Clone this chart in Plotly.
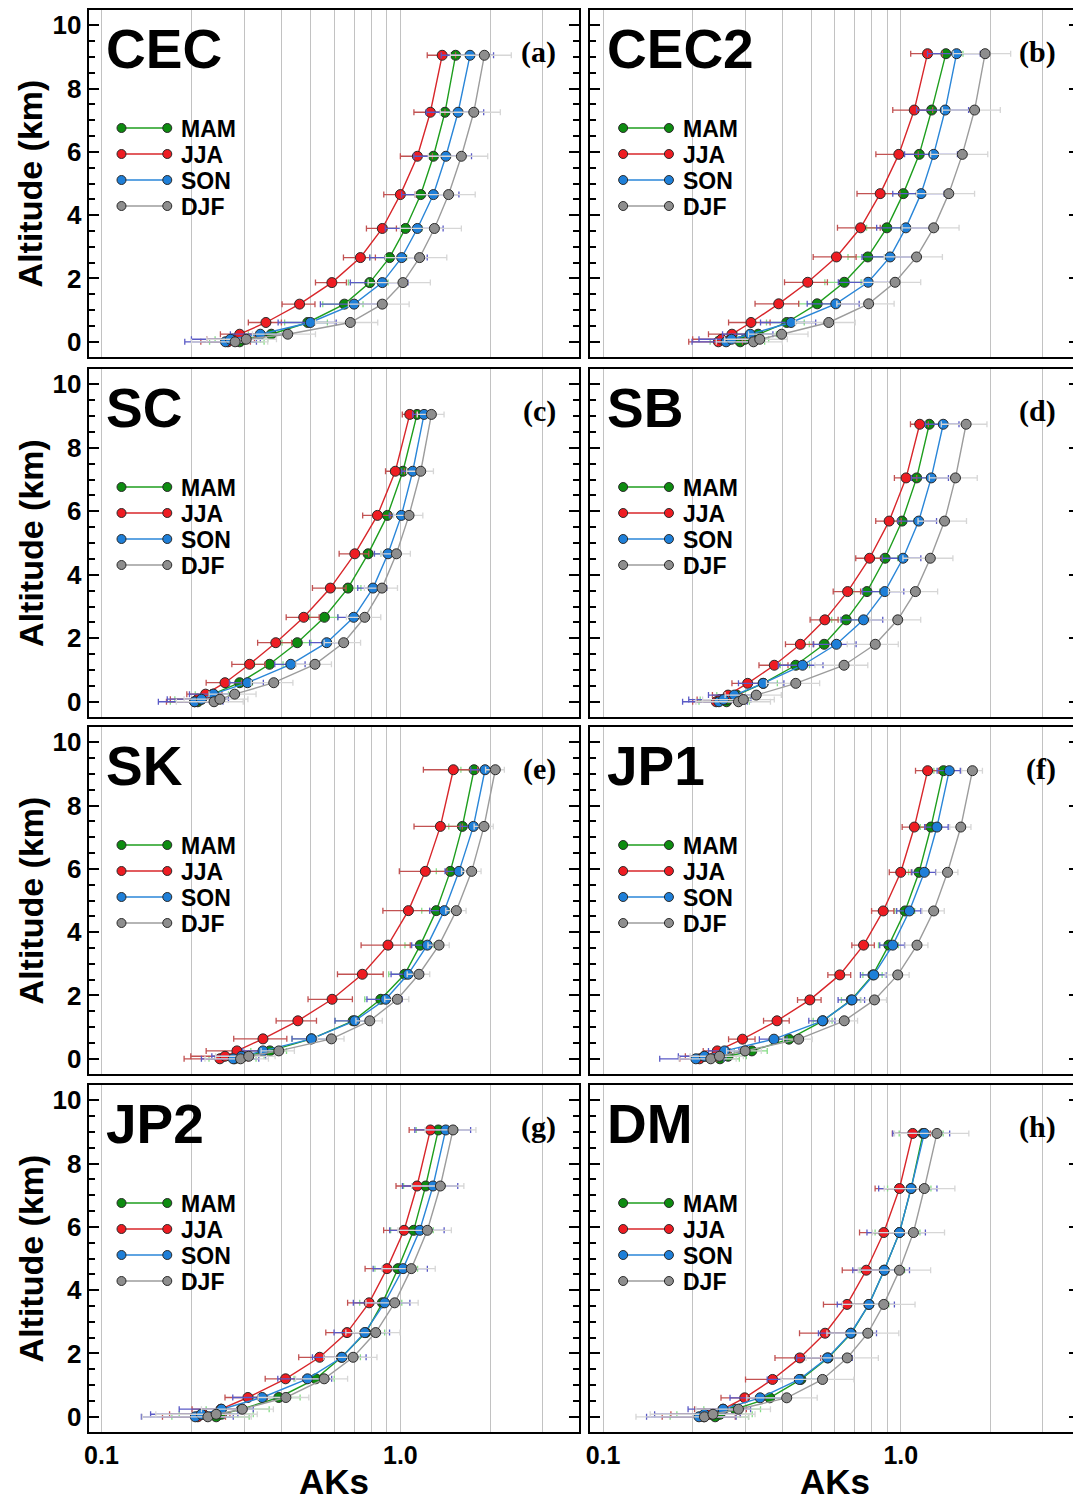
import math
import plotly.graph_objects as go

# ---------------- data ----------------
SEASONS = ["MAM", "JJA", "SON", "DJF"]
PANELS = ["CEC", "CEC2", "SC", "SB", "SK", "JP1", "JP2", "DM"]
PANEL_TAGS = ["(a)", "(b)", "(c)", "(d)", "(e)", "(f)", "(g)", "(h)"]
X_TICK_VALS = [0.1, 0.2, 0.3, 0.4, 0.5, 0.6, 0.7, 0.8, 0.9, 1.0, 2.0, 3.0]
X_TICK_TEXT = ["0.1", "", "", "", "", "", "", "", "", "1.0", "", ""]
Y_TICK_VALS = [0, 2, 4, 6, 8, 10]

# altitude levels (km) per region
ALT_CEC = [0.0, 0.08, 0.24, 0.61, 1.19, 1.87, 2.66, 3.58, 4.65, 5.86, 7.25, 9.05]
ALT_CEC2 = [0.0, 0.08, 0.24, 0.61, 1.20, 1.88, 2.68, 3.60, 4.68, 5.92, 7.32, 9.10]
ALT_SC = [0.0, 0.08, 0.24, 0.60, 1.18, 1.86, 2.66, 3.58, 4.66, 5.87, 7.26, 9.05]
ALT_SB = [0.0, 0.07, 0.21, 0.58, 1.15, 1.81, 2.58, 3.47, 4.52, 5.69, 7.05, 8.74]
ALT_SK = [0.0, 0.08, 0.25, 0.63, 1.20, 1.88, 2.67, 3.59, 4.68, 5.92, 7.34, 9.13]
ALT_JP1 = [0.0, 0.08, 0.25, 0.62, 1.20, 1.86, 2.65, 3.59, 4.67, 5.89, 7.32, 9.10]
ALT_JP2 = [0.0, 0.08, 0.24, 0.61, 1.20, 1.88, 2.66, 3.60, 4.68, 5.89, 7.29, 9.06]
ALT_DM = [0.0, 0.08, 0.24, 0.60, 1.18, 1.86, 2.64, 3.55, 4.63, 5.82, 7.21, 8.95]

# averaging kernels (AKs) per season
AK_CEC = {
    "MAM": [0.29, 0.30, 0.37, 0.49, 0.65, 0.79, 0.92, 1.04, 1.17, 1.29, 1.41, 1.53],
    "JJA": [0.265, 0.275, 0.29, 0.355, 0.46, 0.59, 0.735, 0.87, 1.00, 1.14, 1.26, 1.38],
    "SON": [0.26, 0.27, 0.34, 0.50, 0.70, 0.87, 1.01, 1.14, 1.29, 1.42, 1.56, 1.71],
    "DJF": [0.28, 0.305, 0.42, 0.68, 0.87, 1.02, 1.16, 1.30, 1.45, 1.60, 1.76, 1.91],
}
AK_CEC2 = {
    "MAM": [0.289, 0.30, 0.332, 0.414, 0.524, 0.646, 0.775, 0.898, 1.02, 1.154, 1.27, 1.418],
    "JJA": [0.244, 0.25, 0.271, 0.314, 0.389, 0.487, 0.608, 0.733, 0.853, 0.985, 1.11, 1.23],
    "SON": [0.259, 0.27, 0.312, 0.428, 0.605, 0.777, 0.921, 1.04, 1.17, 1.29, 1.41, 1.54],
    "DJF": [0.32, 0.336, 0.398, 0.573, 0.78, 0.957, 1.13, 1.29, 1.45, 1.61, 1.77, 1.92],
}
AK_SC = {
    "MAM": [0.21, 0.216, 0.236, 0.29, 0.365, 0.452, 0.557, 0.668, 0.78, 0.905, 1.02, 1.137],
    "JJA": [0.205, 0.21, 0.223, 0.259, 0.313, 0.383, 0.475, 0.583, 0.704, 0.838, 0.962, 1.075],
    "SON": [0.205, 0.216, 0.237, 0.308, 0.43, 0.567, 0.698, 0.81, 0.909, 1.008, 1.10, 1.20],
    "DJF": [0.238, 0.249, 0.279, 0.377, 0.518, 0.646, 0.76, 0.868, 0.97, 1.069, 1.17, 1.27],
}
AK_SB = {
    "MAM": [0.26, 0.262, 0.281, 0.345, 0.444, 0.553, 0.656, 0.77, 0.886, 1.01, 1.131, 1.247],
    "JJA": [0.24, 0.247, 0.263, 0.306, 0.376, 0.46, 0.556, 0.663, 0.786, 0.914, 1.042, 1.158],
    "SON": [0.245, 0.254, 0.276, 0.345, 0.468, 0.608, 0.75, 0.884, 1.018, 1.149, 1.266, 1.389],
    "DJF": [0.285, 0.296, 0.327, 0.444, 0.645, 0.821, 0.977, 1.12, 1.257, 1.403, 1.527, 1.658],
}
AK_SK = {
    "MAM": [0.279, 0.30, 0.366, 0.504, 0.695, 0.86, 1.034, 1.166, 1.319, 1.469, 1.612, 1.764],
    "JJA": [0.249, 0.259, 0.284, 0.347, 0.454, 0.591, 0.746, 0.909, 1.064, 1.212, 1.361, 1.504],
    "SON": [0.276, 0.294, 0.347, 0.504, 0.704, 0.893, 1.061, 1.231, 1.403, 1.571, 1.755, 1.92],
    "DJF": [0.292, 0.311, 0.392, 0.588, 0.79, 0.977, 1.154, 1.347, 1.539, 1.732, 1.905, 2.078],
}
AK_JP1 = {
    "MAM": [0.247, 0.263, 0.316, 0.421, 0.548, 0.682, 0.806, 0.912, 1.034, 1.152, 1.263, 1.392],
    "JJA": [0.211, 0.219, 0.242, 0.294, 0.384, 0.495, 0.624, 0.75, 0.873, 1.0, 1.111, 1.231],
    "SON": [0.205, 0.219, 0.256, 0.375, 0.546, 0.686, 0.812, 0.94, 1.069, 1.20, 1.323, 1.455],
    "DJF": [0.23, 0.246, 0.30, 0.454, 0.646, 0.816, 0.977, 1.134, 1.29, 1.436, 1.591, 1.741],
}
AK_JP2 = {
    "MAM": [0.242, 0.252, 0.294, 0.392, 0.521, 0.635, 0.766, 0.871, 0.982, 1.108, 1.215, 1.34],
    "JJA": [0.21, 0.219, 0.251, 0.309, 0.413, 0.537, 0.663, 0.786, 0.902, 1.029, 1.137, 1.26],
    "SON": [0.206, 0.216, 0.252, 0.345, 0.489, 0.638, 0.76, 0.886, 1.021, 1.161, 1.286, 1.418],
    "DJF": [0.227, 0.242, 0.296, 0.414, 0.556, 0.695, 0.827, 0.957, 1.088, 1.231, 1.361, 1.50],
}
AK_DM = {
    "MAM": [0.238, 0.247, 0.278, 0.363, 0.462, 0.57, 0.682, 0.782, 0.88, 0.99, 1.083, 1.188],
    "JJA": [0.218, 0.229, 0.253, 0.299, 0.371, 0.458, 0.557, 0.66, 0.766, 0.877, 0.99, 1.097],
    "SON": [0.21, 0.219, 0.253, 0.337, 0.456, 0.567, 0.679, 0.782, 0.88, 0.99, 1.083, 1.20],
    "DJF": [0.219, 0.234, 0.285, 0.414, 0.546, 0.661, 0.775, 0.877, 0.99, 1.103, 1.20, 1.323],
}

# error bar half-widths (standard deviations)
ERR_CEC = {
    "MAM": [0.06, 0.06, 0.06, 0.08, 0.10, 0.12, 0.13, 0.14, 0.15, 0.16, 0.17, 0.18],
    "JJA": [0.05, 0.05, 0.04, 0.045, 0.058, 0.07, 0.09, 0.10, 0.12, 0.14, 0.15, 0.15],
    "SON": [0.07, 0.07, 0.07, 0.11, 0.16, 0.19, 0.22, 0.25, 0.28, 0.31, 0.34, 0.34],
    "DJF": [0.08, 0.08, 0.10, 0.16, 0.20, 0.24, 0.27, 0.30, 0.33, 0.36, 0.40, 0.44],
}
ERR_CEC2 = {
    "MAM": [0.06, 0.06, 0.05, 0.06, 0.07, 0.09, 0.11, 0.13, 0.14, 0.16, 0.18, 0.20],
    "JJA": [0.05, 0.05, 0.045, 0.05, 0.065, 0.08, 0.10, 0.12, 0.14, 0.16, 0.17, 0.15],
    "SON": [0.06, 0.06, 0.06, 0.09, 0.12, 0.16, 0.18, 0.21, 0.23, 0.26, 0.28, 0.31],
    "DJF": [0.08, 0.08, 0.09, 0.13, 0.17, 0.21, 0.25, 0.28, 0.32, 0.35, 0.39, 0.42],
}
ERR_SC = {
    "MAM": [0.04, 0.04, 0.03, 0.03, 0.04, 0.05, 0.06, 0.07, 0.08, 0.09, 0.09, 0.09],
    "JJA": [0.04, 0.04, 0.03, 0.035, 0.04, 0.05, 0.06, 0.075, 0.08, 0.09, 0.07, 0.06],
    "SON": [0.05, 0.05, 0.04, 0.04, 0.05, 0.07, 0.08, 0.09, 0.09, 0.09, 0.09, 0.10],
    "DJF": [0.06, 0.06, 0.05, 0.06, 0.07, 0.09, 0.10, 0.11, 0.11, 0.12, 0.12, 0.13],
}
ERR_SB = {
    "MAM": [0.05, 0.05, 0.04, 0.04, 0.05, 0.06, 0.07, 0.08, 0.09, 0.10, 0.11, 0.12],
    "JJA": [0.04, 0.04, 0.03, 0.035, 0.042, 0.05, 0.06, 0.07, 0.08, 0.09, 0.09, 0.08],
    "SON": [0.06, 0.06, 0.05, 0.06, 0.08, 0.10, 0.12, 0.14, 0.15, 0.17, 0.18, 0.18],
    "DJF": [0.08, 0.08, 0.07, 0.09, 0.13, 0.16, 0.19, 0.21, 0.24, 0.26, 0.28, 0.29],
}
ERR_SK = {
    "MAM": [0.05, 0.05, 0.05, 0.07, 0.09, 0.10, 0.12, 0.13, 0.14, 0.15, 0.16, 0.17],
    "JJA": [0.06, 0.06, 0.06, 0.07, 0.07, 0.10, 0.13, 0.17, 0.19, 0.22, 0.25, 0.31],
    "SON": [0.06, 0.06, 0.05, 0.07, 0.10, 0.12, 0.13, 0.14, 0.15, 0.16, 0.17, 0.20],
    "DJF": [0.07, 0.07, 0.05, 0.06, 0.08, 0.09, 0.10, 0.11, 0.12, 0.13, 0.14, 0.15],
}
ERR_JP1 = {
    "MAM": [0.04, 0.04, 0.04, 0.04, 0.04, 0.05, 0.06, 0.07, 0.08, 0.09, 0.10, 0.10],
    "JJA": [0.03, 0.03, 0.025, 0.03, 0.038, 0.045, 0.055, 0.065, 0.075, 0.085, 0.10, 0.11],
    "SON": [0.05, 0.04, 0.03, 0.04, 0.055, 0.07, 0.08, 0.09, 0.10, 0.11, 0.12, 0.13],
    "DJF": [0.05, 0.05, 0.04, 0.05, 0.07, 0.08, 0.09, 0.10, 0.11, 0.12, 0.13, 0.14],
}
ERR_JP2 = {
    "MAM": [0.07, 0.07, 0.07, 0.07, 0.08, 0.10, 0.12, 0.14, 0.16, 0.18, 0.19, 0.21],
    "JJA": [0.05, 0.05, 0.05, 0.05, 0.06, 0.08, 0.10, 0.12, 0.14, 0.15, 0.17, 0.19],
    "SON": [0.07, 0.07, 0.07, 0.07, 0.10, 0.13, 0.16, 0.19, 0.21, 0.24, 0.27, 0.30],
    "DJF": [0.09, 0.09, 0.08, 0.08, 0.11, 0.14, 0.17, 0.19, 0.22, 0.25, 0.27, 0.29],
}
ERR_DM = {
    "MAM": [0.07, 0.07, 0.06, 0.06, 0.08, 0.10, 0.12, 0.13, 0.15, 0.17, 0.18, 0.20],
    "JJA": [0.06, 0.06, 0.05, 0.05, 0.07, 0.08, 0.10, 0.11, 0.13, 0.15, 0.17, 0.16],
    "SON": [0.07, 0.07, 0.06, 0.07, 0.10, 0.12, 0.15, 0.17, 0.19, 0.22, 0.24, 0.26],
    "DJF": [0.09, 0.09, 0.08, 0.11, 0.15, 0.18, 0.21, 0.24, 0.27, 0.30, 0.32, 0.37],
}

ALTS = {"CEC": ALT_CEC, "CEC2": ALT_CEC2, "SC": ALT_SC, "SB": ALT_SB,
        "SK": ALT_SK, "JP1": ALT_JP1, "JP2": ALT_JP2, "DM": ALT_DM}
AKS = {"CEC": AK_CEC, "CEC2": AK_CEC2, "SC": AK_SC, "SB": AK_SB,
       "SK": AK_SK, "JP1": AK_JP1, "JP2": AK_JP2, "DM": AK_DM}
ERRS = {"CEC": ERR_CEC, "CEC2": ERR_CEC2, "SC": ERR_SC, "SB": ERR_SB,
        "SK": ERR_SK, "JP1": ERR_JP1, "JP2": ERR_JP2, "DM": ERR_DM}

# ---------------- styles ----------------
LINE_C = {"MAM": "#1e9e1e", "JJA": "#d8262a", "SON": "#2a86d8", "DJF": "#9c9c9c"}
MARK_C = {"MAM": "#0d8c10", "JJA": "#ee1c22", "SON": "#1e7fd8", "DJF": "#8e8e8e"}
ERR_C = {"MAM": "#86dc86", "JJA": "#c25252", "SON": "#5a5ac6", "DJF": "#d6d6d6"}
SANS = "Liberation Sans"
SERIF = "Liberation Serif"

# the page body adds an 8 px margin; the figure is sized/offset to compensate
OFF = 8
W, H = 1081 - OFF, 1503 - OFF
COL_X = [(84, 577), (588, 1079)]
ROW_Y = [(10, 357), (369, 717), (727, 1074), (1085, 1432)]
X_RANGE = [math.log10(0.0906), math.log10(3.97)]
Y_RANGE = [-0.48, 10.48]


def px(x):
    return (x - OFF) / W


def py(y):
    return 1 - (y - OFF) / H


fig = go.Figure()
layout = {}
annotations = []
shapes = []

for i, name in enumerate(PANELS):
    r, c = divmod(i, 2)
    sfx = "" if i == 0 else str(i + 1)
    xa, ya = "x" + sfx, "y" + sfx
    x0, x1 = COL_X[c]
    y0, y1 = ROW_Y[r]

    for s in SEASONS:
        fig.add_trace(go.Scatter(
            x=AKS[name][s], y=ALTS[name],
            mode="lines+markers",
            line=dict(color=LINE_C[s], width=1.4),
            marker=dict(size=10, color=MARK_C[s], line=dict(color="#2a2a2a", width=1)),
            error_x=dict(type="data", array=ERRS[name][s], color=ERR_C[s],
                         thickness=1.3, width=3),
            xaxis=xa, yaxis=ya, showlegend=False, name=s,
        ))

    layout["xaxis" + sfx] = dict(
        domain=[px(x0), px(x1)], anchor=ya, type="log", range=X_RANGE,
        tickvals=X_TICK_VALS, ticktext=X_TICK_TEXT, ticks="",
        showgrid=True, gridcolor="#c2c2c2", gridwidth=1,
        showline=True, linecolor="black", linewidth=2, mirror=True,
        zeroline=False, showticklabels=(r == 3),
        tickfont=dict(family=SANS, size=25, color="black", weight="bold"),
    )
    layout["yaxis" + sfx] = dict(
        domain=[py(y1), py(y0)], anchor=xa, range=Y_RANGE,
        tickvals=Y_TICK_VALS, ticks="inside", ticklen=10, tickwidth=2,
        tickcolor="black", showline=True, linecolor="black", linewidth=2,
        mirror="ticks", showgrid=False, zeroline=False,
        minor=dict(dtick=0.5, ticks="inside", ticklen=6, tickwidth=1.5,
                   tickcolor="black", showgrid=False),
        showticklabels=(c == 0),
        tickfont=dict(family=SANS, size=26, color="black", weight="bold"),
    )

    # darker line at AK = 1.0
    shapes.append(dict(type="line", xref=xa, yref=ya + " domain", x0=0, x1=0,
                       y0=0, y1=1, line=dict(color="#8f8f8f", width=1.2), layer="below"))

    # region title and panel tag
    annotations.append(dict(text=name, xref="paper", yref="paper",
                            x=px(x0 + 15), y=py(y0 + 39), xanchor="left", yanchor="middle",
                            showarrow=False,
                            font=dict(family=SANS, size=55, color="black", weight="bold")))
    annotations.append(dict(text=PANEL_TAGS[i], xref="paper", yref="paper",
                            x=px(x1 - 21), y=py(y0 + 42), xanchor="right", yanchor="middle",
                            showarrow=False,
                            font=dict(family=SERIF, size=30, color="black", weight="bold")))

    # in-panel legend
    for k, s in enumerate(SEASONS):
        ly = y0 + 118 + 26 * k
        lx0, lx1 = x0 + 33, x0 + 79
        shapes.append(dict(type="line", xref="paper", yref="paper",
                           x0=px(lx0), x1=px(lx1), y0=py(ly), y1=py(ly),
                           line=dict(color=LINE_C[s], width=1.4)))
        for lx in (lx0, lx1):
            shapes.append(dict(type="circle", xref="paper", yref="paper",
                               xsizemode="pixel", ysizemode="pixel",
                               xanchor=px(lx), yanchor=py(ly),
                               x0=-4.5, x1=4.5, y0=-4.5, y1=4.5,
                               fillcolor=MARK_C[s], line=dict(color="#2a2a2a", width=1)))
        annotations.append(dict(text=s, xref="paper", yref="paper",
                                x=px(x0 + 92), y=py(ly + 1), xanchor="left", yanchor="middle",
                                borderpad=0,
                                showarrow=False,
                                font=dict(family=SANS, size=23, color="black", weight="bold")))

# axis titles
for r in range(4):
    y0, y1 = ROW_Y[r]
    annotations.append(dict(text="Altitude (km)", xref="paper", yref="paper",
                            x=px(26), y=py((y0 + y1) / 2), textangle=-90,
                            xanchor="center", yanchor="middle", showarrow=False,
                            font=dict(family=SANS, size=34, color="black", weight="bold")))
for c in range(2):
    x0, x1 = COL_X[c]
    annotations.append(dict(text="AKs", xref="paper", yref="paper",
                            x=px((x0 + x1) / 2), y=py(1481),
                            xanchor="center", yanchor="middle", showarrow=False,
                            font=dict(family=SANS, size=35, color="black", weight="bold")))

fig.update_layout(
    width=W, height=H,
    margin=dict(l=0, r=0, t=0, b=0),
    paper_bgcolor="white", plot_bgcolor="white",
    showlegend=False,
    annotations=annotations, shapes=shapes,
    **layout,
)

fig.write_html("out.html")
